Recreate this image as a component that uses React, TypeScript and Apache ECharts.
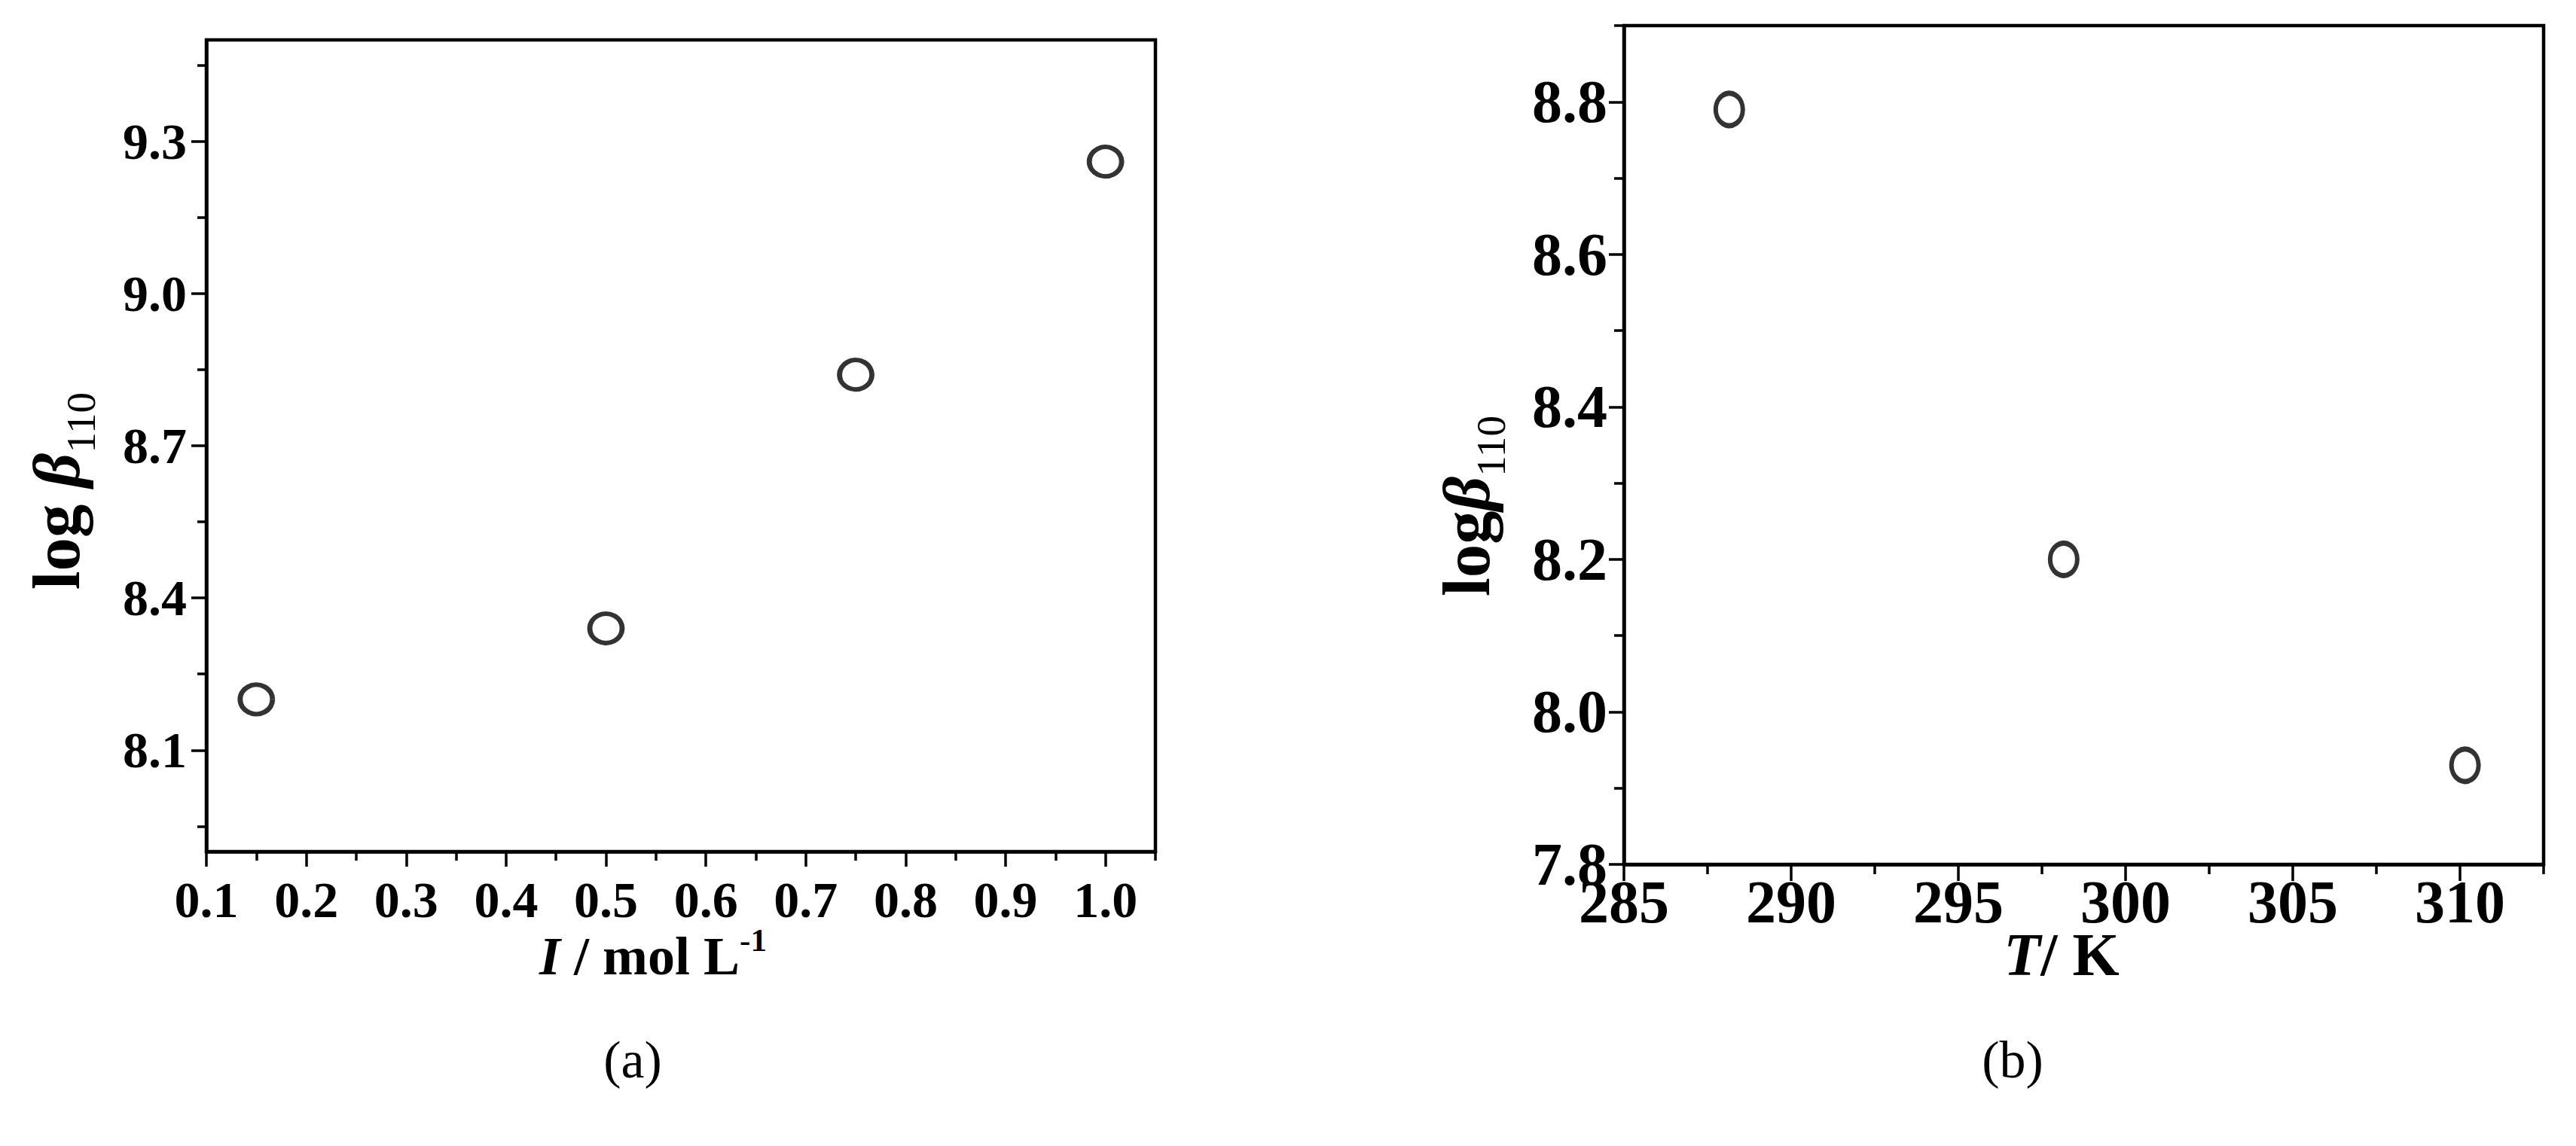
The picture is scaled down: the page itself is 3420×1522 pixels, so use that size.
import React, { useEffect, useRef } from "react";
import * as echarts from "echarts";

// ---- Panel (a) data ----
const I_VALUES = [0.15, 0.5, 0.75, 1.0];
const LOGB_A = [8.2, 8.34, 8.84, 9.26];
const A_X_MAJOR = [0.1, 0.2, 0.3, 0.4, 0.5, 0.6, 0.7, 0.8, 0.9, 1.0];
const A_X_MINOR = [0.15, 0.25, 0.35, 0.45, 0.55, 0.65, 0.75, 0.85, 0.95, 1.05];
const A_Y_MAJOR = [8.1, 8.4, 8.7, 9.0, 9.3];
const A_Y_MINOR = [7.95, 8.25, 8.55, 8.85, 9.15, 9.45];

// ---- Panel (b) data ----
const T_VALUES = [288.15, 298.15, 310.15];
const LOGB_B = [8.79, 8.2, 7.93];
const B_X_MAJOR = [285, 290, 295, 300, 305, 310];
const B_X_MINOR = [287.5, 292.5, 297.5, 302.5, 307.5, 312.5];
const B_Y_MAJOR = [7.8, 8.0, 8.2, 8.4, 8.6, 8.8];
const B_Y_MINOR = [7.9, 8.1, 8.3, 8.5, 8.7, 8.9];

const FONT = '"Liberation Serif", "Times New Roman", serif';

function makeAxis(kind: "x" | "y", grid: number, min: number, max: number, major: number[], minor: number[], opts: any) {
  const main = {
    type: "value",
    gridIndex: grid,
    min,
    max,
    position: kind === "x" ? "bottom" : "left",
    splitLine: { show: false },
    axisLine: { show: true, onZero: false, lineStyle: { color: "#000", width: 4.5 } },
    axisTick: { show: true, customValues: major, length: opts.majorLen, lineStyle: { color: "#000", width: 3.5 } },
    axisLabel: {
      show: true,
      customValues: major,
      margin: opts.margin,
      color: "#000",
      fontFamily: FONT,
      fontWeight: "bold",
      fontSize: opts.fontSize,
      formatter: (v: number) => v.toFixed(opts.digits),
    },
  };
  const sub = {
    type: "value",
    gridIndex: grid,
    min,
    max,
    position: kind === "x" ? "bottom" : "left",
    splitLine: { show: false },
    axisLine: { show: false, onZero: false },
    axisTick: { show: true, customValues: minor, length: opts.minorLen, lineStyle: { color: "#000", width: 3.5 } },
    axisLabel: { show: false },
  };
  return [main, sub];
}

export default function App() {
  const ref = useRef<HTMLDivElement>(null);
  useEffect(() => {
    if (!ref.current) return;
    const chart = echarts.init(ref.current, undefined, { renderer: "svg" });

    const [ax0, ax1] = makeAxis("x", 0, 0.1, 1.05, A_X_MAJOR, A_X_MINOR, { majorLen: 20, minorLen: 12, margin: 30, fontSize: 68, digits: 1 });
    const [bx0, bx1] = makeAxis("x", 1, 285, 312.5, B_X_MAJOR, B_X_MINOR, { majorLen: 22, minorLen: 13, margin: 10, fontSize: 80, digits: 0 });
    const [ay0, ay1] = makeAxis("y", 0, 7.9, 9.5, A_Y_MAJOR, A_Y_MINOR, { majorLen: 20, minorLen: 12, margin: 26, fontSize: 68, digits: 1 });
    const [by0, by1] = makeAxis("y", 1, 7.8, 8.9, B_Y_MAJOR, B_Y_MINOR, { majorLen: 20, minorLen: 13, margin: 22, fontSize: 80, digits: 1 });

    const titleRich = (size: number) => ({
      b: { fontFamily: FONT, fontWeight: "bold", fontSize: size, color: "#000", lineHeight: size * 1.1 },
      bi: { fontFamily: FONT, fontWeight: "bold", fontStyle: "italic", fontSize: size, color: "#000", lineHeight: size * 1.1 },
      sub: { fontFamily: FONT, fontWeight: "normal", fontSize: size * 0.62, color: "#000", lineHeight: size * 0.62, verticalAlign: "bottom", padding: [0, 0, -size * 0.12, 0] },
      sup: { fontFamily: FONT, fontWeight: "bold", fontSize: size * 0.6, color: "#000", lineHeight: size * 0.6, verticalAlign: "top", padding: [-size * 0.05, 0, 0, 0] },
    });

    chart.setOption({
      animation: false,
      backgroundColor: "#fff",
      grid: [
        { left: 274, top: 53, width: 1260, height: 1078, show: true, borderColor: "#000", borderWidth: 4.5, backgroundColor: "transparent", containLabel: false },
        { left: 2156, top: 34, width: 1221, height: 1114, show: true, borderColor: "#000", borderWidth: 4.5, backgroundColor: "transparent", containLabel: false },
      ],
      xAxis: [ax0, ax1, bx0, bx1],
      yAxis: [ay0, ay1, by0, by1],
      series: [
        {
          type: "scatter",
          xAxisIndex: 0,
          yAxisIndex: 0,
          data: I_VALUES.map((x, i) => [x, LOGB_A[i]]),
          symbol: "circle",
          symbolSize: [43, 39],
          itemStyle: { color: "#fff", borderColor: "#000", borderWidth: 6.5 },
        },
        {
          type: "scatter",
          xAxisIndex: 2,
          yAxisIndex: 2,
          data: T_VALUES.map((x, i) => [x, LOGB_B[i]]),
          symbol: "circle",
          symbolSize: [36, 43],
          itemStyle: { color: "#fff", borderColor: "#000", borderWidth: 6.5 },
        },
      ],
      graphic: [
        {
          type: "text",
          x: 75,
          y: 652,
          rotation: Math.PI / 2,
          style: { text: "{b|log }{bi|β}{sub|110}", rich: titleRich(89), align: "center", verticalAlign: "middle" },
        },
        {
          type: "text",
          x: 867,
          y: 1270,
          style: { text: "{bi|I}{b| / mol L}{sup|-1}", rich: titleRich(72), align: "center", verticalAlign: "middle" },
        },
        {
          type: "text",
          x: 840,
          y: 1407,
          style: { text: "(a)", fontFamily: FONT, fontSize: 70, fill: "#000", align: "center", verticalAlign: "middle" },
        },
        {
          type: "text",
          x: 1947,
          y: 672,
          rotation: Math.PI / 2,
          style: { text: "{b|log}{bi|β}{sub|110}", rich: titleRich(89), align: "center", verticalAlign: "middle" },
        },
        {
          type: "text",
          x: 2737,
          y: 1268,
          style: { text: "{bi|T}{b|/ K}", rich: titleRich(80), align: "center", verticalAlign: "middle" },
        },
        {
          type: "text",
          x: 2672,
          y: 1407,
          style: { text: "(b)", fontFamily: FONT, fontSize: 70, fill: "#000", align: "center", verticalAlign: "middle" },
        },
      ],
    });
    return () => chart.dispose();
  }, []);
  return <div ref={ref} style={{ position: "fixed", left: 0, top: 0, width: 3420, height: 1522, background: "#fff" }} />;
}
